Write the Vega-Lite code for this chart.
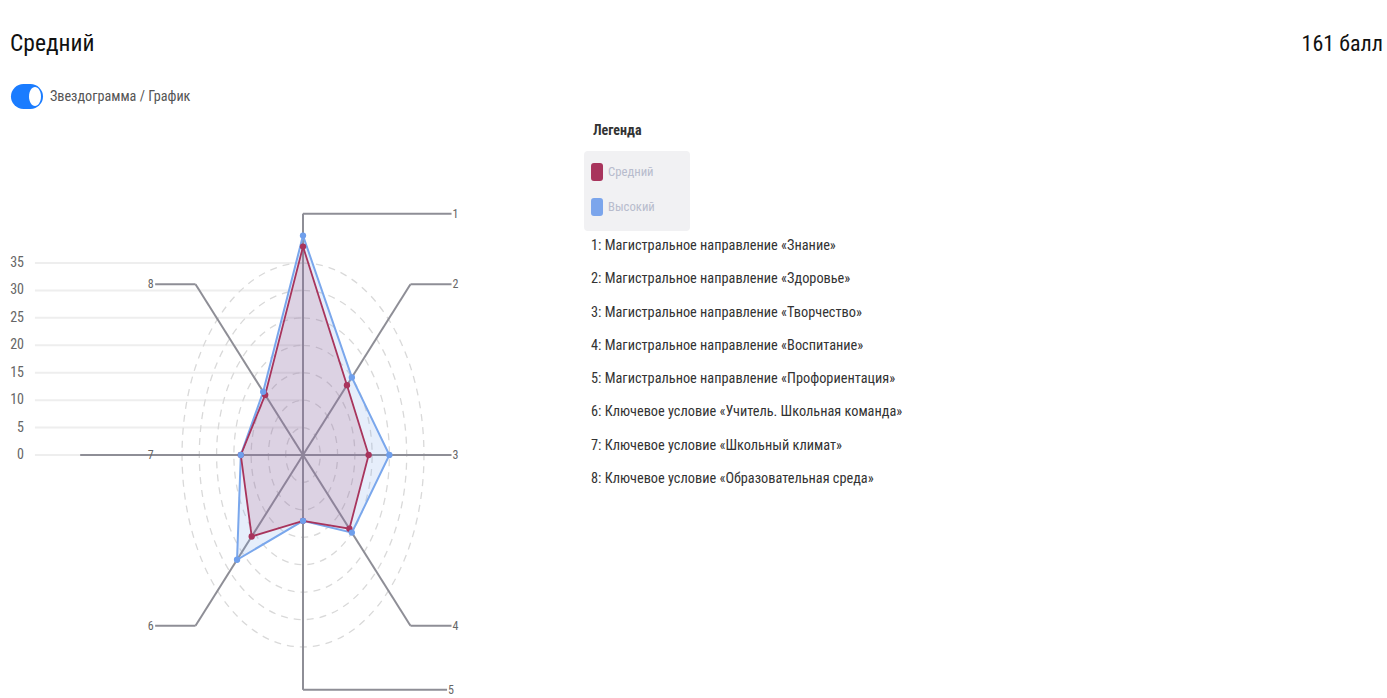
{
  "$schema": "https://vega.github.io/schema/vega-lite/v6.json",
  "width": 1387,
  "height": 698,
  "padding": 0,
  "autosize": {"type": "none"},
  "background": "white",
  "config": {
    "view": {"stroke": null},
    "font": "Liberation Sans Narrow, Roboto Condensed, Roboto, sans-serif"
  },
  "datasets": {
    "grid": [{"v": 0}, {"v": 5}, {"v": 10}, {"v": 15}, {"v": 20}, {"v": 25}, {"v": 30}, {"v": 35}],
    "rings": [{"r": 5}, {"r": 10}, {"r": 15}, {"r": 20}, {"r": 25}, {"r": 30}, {"r": 35}],
    "axes": [
      {"axis": 1, "len": 44, "end": 43},
      {"axis": 2, "len": 44, "end": 43},
      {"axis": 3, "len": 43, "end": 43},
      {"axis": 4, "len": 44, "end": 43},
      {"axis": 5, "len": 42.8, "end": 41.7},
      {"axis": 6, "len": 44, "end": -42.8},
      {"axis": 7, "len": 64.5, "end": -64.5},
      {"axis": 8, "len": 44, "end": -42.8}
    ],
    "scores": [
      {"series": "Средний", "axis": 1, "value": 38},
      {"series": "Средний", "axis": 2, "value": 18},
      {"series": "Средний", "axis": 3, "value": 19},
      {"series": "Средний", "axis": 4, "value": 19},
      {"series": "Средний", "axis": 5, "value": 12},
      {"series": "Средний", "axis": 6, "value": 21},
      {"series": "Средний", "axis": 7, "value": 18},
      {"series": "Средний", "axis": 8, "value": 15.5},
      {"series": "Высокий", "axis": 1, "value": 40},
      {"series": "Высокий", "axis": 2, "value": 20},
      {"series": "Высокий", "axis": 3, "value": 25},
      {"series": "Высокий", "axis": 4, "value": 20},
      {"series": "Высокий", "axis": 5, "value": 12},
      {"series": "Высокий", "axis": 6, "value": 27},
      {"series": "Высокий", "axis": 7, "value": 18},
      {"series": "Высокий", "axis": 8, "value": 16.3}
    ],
    "desc": [
      {"lines": ["1: Магистральное направление «Знание»", "2: Магистральное направление «Здоровье»", "3: Магистральное направление «Творчество»", "4: Магистральное направление «Воспитание»", "5: Магистральное направление «Профориентация»", "6: Ключевое условие «Учитель. Школьная команда»", "7: Ключевое условие «Школьный климат»", "8: Ключевое условие «Образовательная среда»"]}
    ]
  },
  "layer": [
    {
      "data": {"name": "grid"},
      "transform": [{"calculate": "-77.6", "as": "gx0"}, {"calculate": "0", "as": "gx1"}],
      "mark": {"type": "rule", "color": "#eeeeee", "strokeWidth": 2},
      "encoding": {
        "x": {"field": "gx0", "type": "quantitative", "scale": {"domain": [-87.71, 313.79], "nice": false, "zero": false}, "axis": null},
        "x2": {"field": "gx1"},
        "y": {"field": "v", "type": "quantitative", "scale": {"domain": [-44.29, 82.94], "nice": false, "zero": false}, "axis": null}
      }
    },
    {
      "data": {"name": "grid"},
      "mark": {"type": "text", "align": "right", "baseline": "middle", "fontSize": 14, "color": "#666666"},
      "encoding": {
        "x": {"datum": -80.76, "type": "quantitative", "axis": null},
        "y": {"field": "v", "type": "quantitative", "axis": null},
        "text": {"field": "v", "type": "nominal"}
      }
    },
    {
      "data": {"name": "rings"},
      "mark": {"type": "point", "filled": false, "shape": "M 0 -1 C 0.3479 -1 0.63 -0.5523 0.63 0 C 0.63 0.5523 0.3479 1 0 1 C -0.3479 1 -0.63 0.5523 -0.63 0 C -0.63 -0.5523 -0.3479 -1 0 -1 Z", "stroke": "#d9d9d9", "strokeWidth": 1.3, "strokeDash": [7, 6], "opacity": 1},
      "encoding": {
        "x": {"datum": 0, "type": "quantitative", "axis": null},
        "y": {"datum": 0, "type": "quantitative", "axis": null},
        "size": {"field": "r", "type": "quantitative", "scale": {"type": "pow", "exponent": 2, "domain": [0, 35], "range": [0, 147456]}, "legend": null}
      }
    },
    {
      "data": {"name": "axes"},
      "transform": [
        {"calculate": "(datum.axis - 1) * PI / 4", "as": "theta"},
        {"calculate": "datum.len * sin(datum.theta)", "as": "x1"},
        {"calculate": "datum.len * cos(datum.theta)", "as": "y1"},
        {"calculate": "0", "as": "c0"}
      ],
      "mark": {"type": "rule", "color": "#8e8e96", "strokeWidth": 2},
      "encoding": {
        "x": {"field": "c0", "type": "quantitative", "axis": null},
        "y": {"field": "c0", "type": "quantitative", "axis": null},
        "x2": {"field": "x1"},
        "y2": {"field": "y1"}
      }
    },
    {
      "data": {"name": "axes"},
      "transform": [
        {"calculate": "(datum.axis - 1) * PI / 4", "as": "theta"},
        {"calculate": "datum.len * sin(datum.theta)", "as": "x1"},
        {"calculate": "datum.len * cos(datum.theta)", "as": "y1"}
      ],
      "mark": {"type": "rule", "color": "#8e8e96", "strokeWidth": 2},
      "encoding": {
        "x": {"field": "x1", "type": "quantitative", "axis": null},
        "x2": {"field": "end"},
        "y": {"field": "y1", "type": "quantitative", "axis": null}
      }
    },
    {
      "data": {"name": "axes"},
      "transform": [
        {"calculate": "(datum.axis - 1) * PI / 4", "as": "theta"},
        {"calculate": "datum.len * cos(datum.theta)", "as": "y1"},
        {"calculate": "datum.end > 0 ? datum.end + 0.3 : -43.2", "as": "lx"}
      ],
      "layer": [
        {
          "transform": [{"filter": "datum.axis <= 5"}],
          "mark": {"type": "text", "align": "left", "baseline": "middle", "fontSize": 12, "color": "#666666"},
          "encoding": {
            "x": {"field": "lx", "type": "quantitative", "axis": null},
            "y": {"field": "y1", "type": "quantitative", "axis": null},
            "text": {"field": "axis", "type": "nominal"}
          }
        },
        {
          "transform": [{"filter": "datum.axis > 5"}],
          "mark": {"type": "text", "align": "right", "baseline": "middle", "fontSize": 12, "color": "#666666"},
          "encoding": {
            "x": {"field": "lx", "type": "quantitative", "axis": null},
            "y": {"field": "y1", "type": "quantitative", "axis": null},
            "text": {"field": "axis", "type": "nominal"}
          }
        }
      ]
    },
    {
      "data": {"name": "scores"},
      "transform": [
        {"calculate": "(datum.axis - 1) * PI / 4", "as": "theta"},
        {"calculate": "datum.value * sin(datum.theta)", "as": "px"},
        {"calculate": "datum.value * cos(datum.theta)", "as": "py"}
      ],
      "layer": [
        {
          "transform": [{"filter": "datum.series === 'Высокий'"}],
          "mark": {"type": "line", "interpolate": "linear-closed", "stroke": "#7aa7ec", "strokeWidth": 2, "fill": "#7aa7ec", "fillOpacity": 0.19},
          "encoding": {
            "x": {"field": "px", "type": "quantitative", "axis": null},
            "y": {"field": "py", "type": "quantitative", "axis": null},
            "order": {"field": "axis", "type": "quantitative"}
          }
        },
        {
          "transform": [{"filter": "datum.series === 'Средний'"}],
          "mark": {"type": "line", "interpolate": "linear-closed", "stroke": "#a8345c", "strokeWidth": 1.8, "fill": "#a8345c", "fillOpacity": 0.15},
          "encoding": {
            "x": {"field": "px", "type": "quantitative", "axis": null},
            "y": {"field": "py", "type": "quantitative", "axis": null},
            "order": {"field": "axis", "type": "quantitative"}
          }
        },
        {
          "mark": {"type": "point", "filled": true, "size": 40, "opacity": 1},
          "encoding": {
            "x": {"field": "px", "type": "quantitative", "axis": null},
            "y": {"field": "py", "type": "quantitative", "axis": null},
            "color": {"field": "series", "type": "nominal", "scale": {"domain": ["Средний", "Высокий"], "range": ["#a8345c", "#6f9fec"]}, "legend": null}
          }
        }
      ]
    },
    {
      "data": {"values": [{"text": "Средний"}]},
      "mark": {"type": "text", "align": "left", "baseline": "alphabetic", "fontSize": 23.5, "color": "#111111"},
      "encoding": {
        "x": {"datum": -84.82, "type": "quantitative", "axis": null},
        "y": {"datum": 73.64, "type": "quantitative", "axis": null},
        "text": {"field": "text", "type": "nominal"}
      }
    },
    {
      "data": {"values": [{"text": "161 балл"}]},
      "mark": {"type": "text", "align": "right", "baseline": "alphabetic", "fontSize": 22, "color": "#111111"},
      "encoding": {
        "x": {"datum": 312.6, "type": "quantitative", "axis": null},
        "y": {"datum": 73.64, "type": "quantitative", "axis": null},
        "text": {"field": "text", "type": "nominal"}
      }
    },
    {
      "data": {"values": [{"item": "toggle"}]},
      "mark": {"type": "point", "filled": false, "shape": "M -0.22 0 L 0.22 0", "size": 1024, "stroke": "#1a7cff", "strokeWidth": 25, "strokeCap": "round", "opacity": 1},
      "encoding": {
        "x": {"datum": -79.9, "type": "quantitative", "axis": null},
        "y": {"datum": 65.35, "type": "quantitative", "axis": null}
      }
    },
    {
      "data": {"values": [{"item": "knob"}]},
      "mark": {"type": "point", "filled": true, "fill": "#ffffff", "opacity": 1, "size": 361, "shape": "M 0 -1 C 0.3479 -1 0.63 -0.5523 0.63 0 C 0.63 0.5523 0.3479 1 0 1 C -0.3479 1 -0.63 0.5523 -0.63 0 C -0.63 -0.5523 -0.3479 -1 0 -1 Z"},
      "encoding": {
        "x": {"datum": -77.58, "type": "quantitative", "axis": null},
        "y": {"datum": 65.35, "type": "quantitative", "axis": null}
      }
    },
    {
      "data": {"values": [{"text": "Звездограмма / График"}]},
      "mark": {"type": "text", "align": "left", "baseline": "middle", "fontSize": 14.2, "color": "#555555"},
      "encoding": {
        "x": {"datum": -73.24, "type": "quantitative", "axis": null},
        "y": {"datum": 65.26, "type": "quantitative", "axis": null},
        "text": {"field": "text", "type": "nominal"}
      }
    },
    {
      "data": {"values": [{"text": "Легенда"}]},
      "mark": {"type": "text", "align": "left", "baseline": "middle", "fontSize": 14, "fontWeight": "bold", "color": "#333333"},
      "encoding": {
        "x": {"datum": 83.95, "type": "quantitative", "axis": null},
        "y": {"datum": 59.06, "type": "quantitative", "axis": null},
        "text": {"field": "text", "type": "nominal"}
      }
    },
    {
      "data": {"values": [{"item": "box"}]},
      "mark": {"type": "point", "filled": true, "fill": "#f1f1f3", "stroke": "#f1f1f3", "strokeWidth": 8, "strokeJoin": "round", "opacity": 1, "size": 11236, "shape": "M -0.9245 -0.6792 H 0.9245 V 0.6792 H -0.9245 Z"},
      "encoding": {
        "x": {"datum": 96.69, "type": "quantitative", "axis": null},
        "y": {"datum": 48.12, "type": "quantitative", "axis": null}
      }
    },
    {
      "data": {"values": [{"series": "Средний"}]},
      "layer": [
        {
          "mark": {"type": "point", "filled": true, "fill": "#a8345c", "stroke": "#a8345c", "strokeWidth": 6, "strokeJoin": "round", "opacity": 1, "size": 324, "shape": "M -0.333 -0.667 H 0.333 V 0.667 H -0.333 Z"},
          "encoding": {
            "x": {"datum": 85.11, "type": "quantitative", "axis": null},
            "y": {"datum": 51.59, "type": "quantitative", "axis": null}
          }
        },
        {
          "mark": {"type": "text", "align": "left", "baseline": "middle", "fontSize": 12.7, "color": "#b8bccd"},
          "encoding": {
            "x": {"datum": 88.29, "type": "quantitative", "axis": null},
            "y": {"datum": 51.59, "type": "quantitative", "axis": null},
            "text": {"field": "series", "type": "nominal"}
          }
        }
      ]
    },
    {
      "data": {"values": [{"series": "Высокий"}]},
      "layer": [
        {
          "mark": {"type": "point", "filled": true, "fill": "#7ba5ec", "stroke": "#7ba5ec", "strokeWidth": 6, "strokeJoin": "round", "opacity": 1, "size": 324, "shape": "M -0.333 -0.667 H 0.333 V 0.667 H -0.333 Z"},
          "encoding": {
            "x": {"datum": 85.11, "type": "quantitative", "axis": null},
            "y": {"datum": 45.21, "type": "quantitative", "axis": null}
          }
        },
        {
          "mark": {"type": "text", "align": "left", "baseline": "middle", "fontSize": 12.7, "color": "#b8bccd"},
          "encoding": {
            "x": {"datum": 88.29, "type": "quantitative", "axis": null},
            "y": {"datum": 45.21, "type": "quantitative", "axis": null},
            "text": {"field": "series", "type": "nominal"}
          }
        }
      ]
    },
    {
      "data": {"name": "desc"},
      "mark": {"type": "text", "align": "left", "baseline": "middle", "fontSize": 14.3, "lineHeight": 33.3, "color": "#333333"},
      "encoding": {
        "x": {"datum": 83.37, "type": "quantitative", "axis": null},
        "y": {"datum": 38.1, "type": "quantitative", "axis": null},
        "text": {"field": "lines", "type": "nominal"}
      }
    }
  ]
}
